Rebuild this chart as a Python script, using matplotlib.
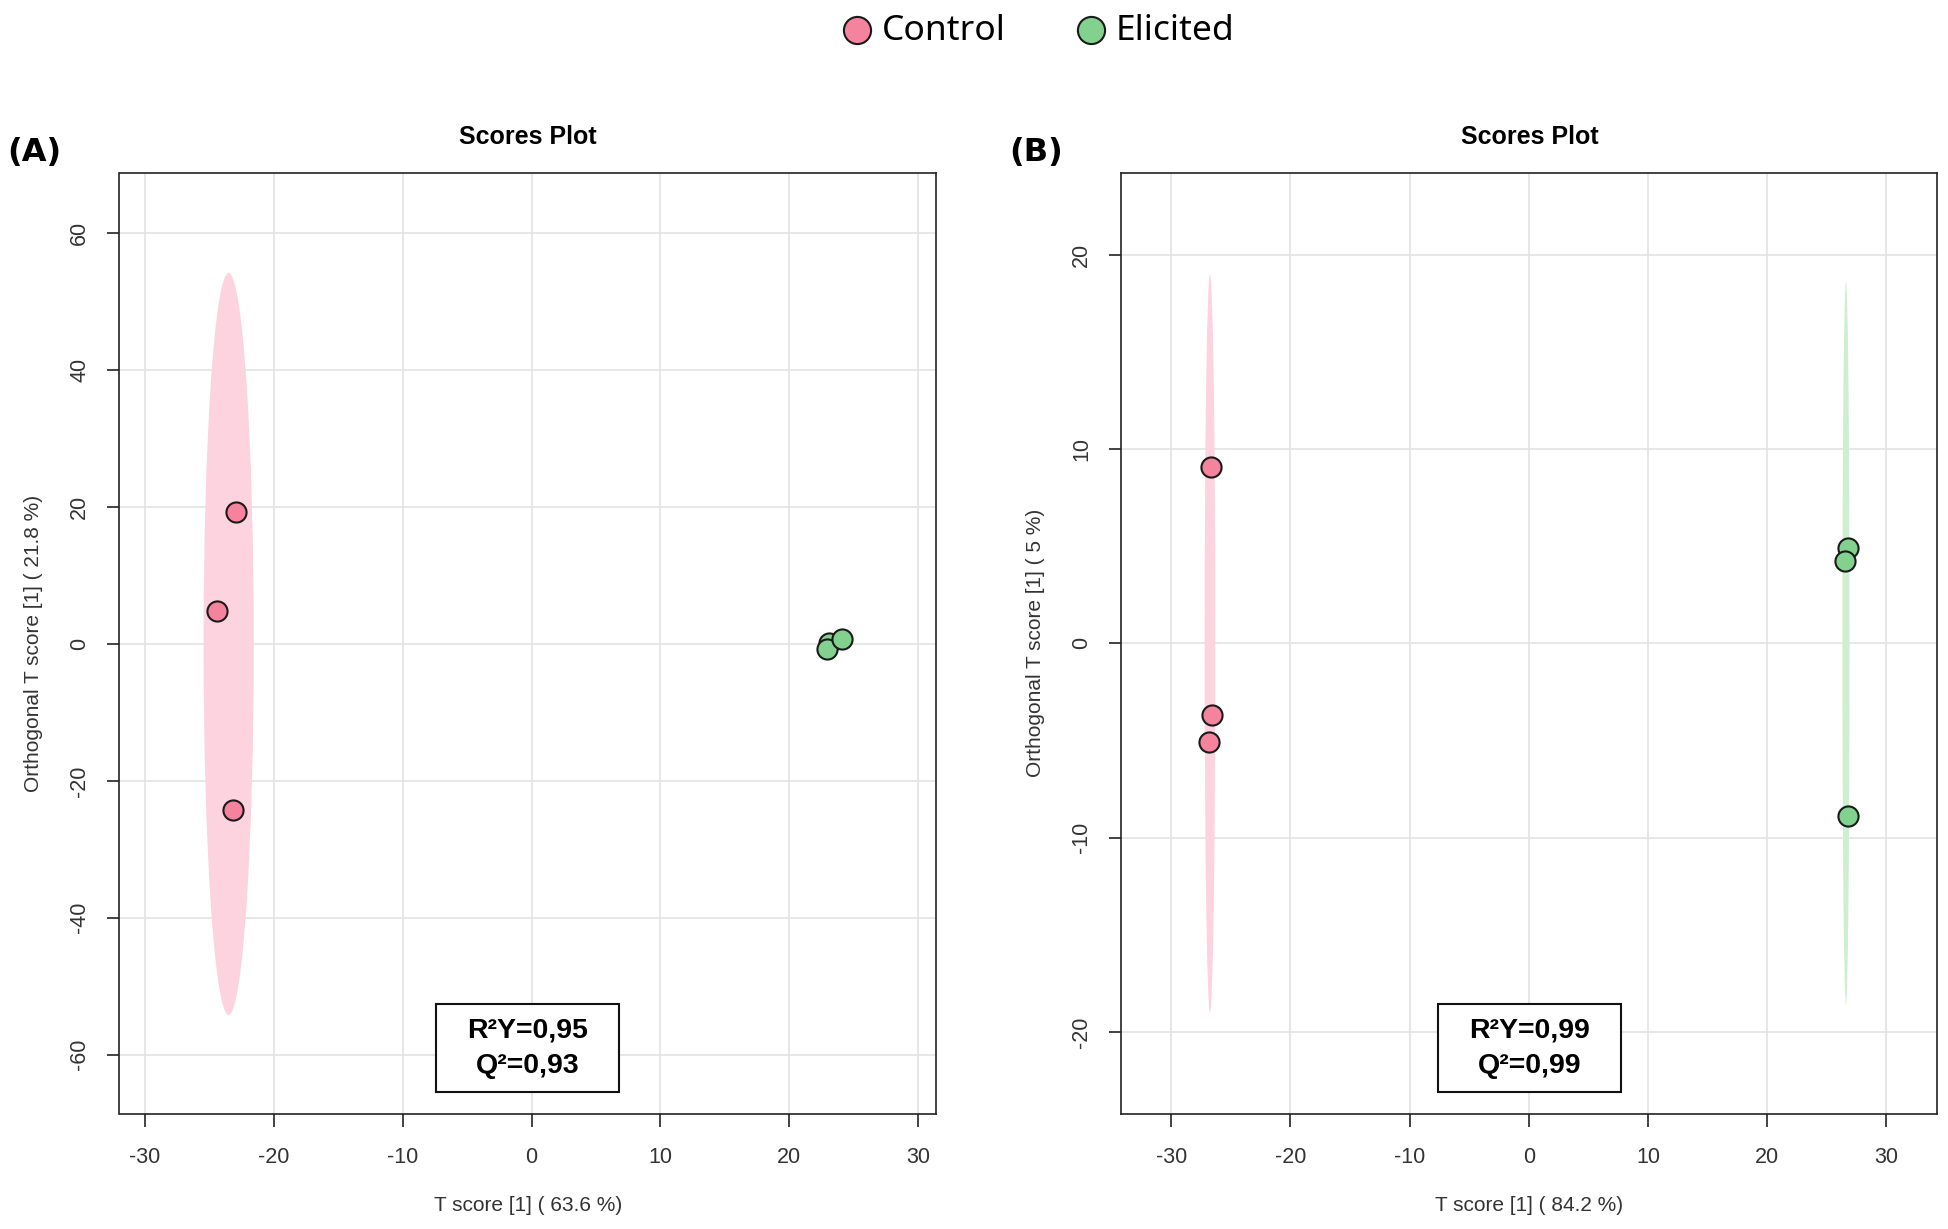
import matplotlib
matplotlib.use("Agg")
import matplotlib.pyplot as plt
from matplotlib.patches import Ellipse, Rectangle

plt.rcParams['font.family'] = ['Liberation Sans', 'DejaVu Sans']
plt.rcParams['axes.unicode_minus'] = False

# ---- data ----
groups = ["Control", "Elicited"]
point_colors = ["#F5839D", "#83D18F"]
fill_colors = ["#FDD3E0", "#CDEFCF"]

# panel A (T score 63.6 %, orthogonal 21.8 %)
a_ctrl_x = [-22.9, -24.4, -23.2]
a_ctrl_y = [19.3, 4.8, -24.3]
a_elic_x = [23.1, 22.95, 24.1]
a_elic_y = [0.2, -0.8, 0.7]
# ellipse: centre x, centre y, full width, full height
a_ellipses = [(-23.5, 0.0, 3.9, 108.4), None]
a_stats = ["R²Y=0,95", "Q²=0,93"]

# panel B (T score 84.2 %, orthogonal 5 %)
b_ctrl_x = [-26.65, -26.6, -26.85]
b_ctrl_y = [9.05, -3.7, -5.1]
b_elic_x = [26.78, 26.5, 26.78]
b_elic_y = [4.88, 4.25, -8.87]
b_ellipses = [(-26.75, 0.0, 0.9, 38.0), (26.62, 0.0, 0.6, 37.2)]
b_stats = ["R²Y=0,99", "Q²=0,99"]

xticks = [-30, -20, -10, 0, 10, 20, 30]
a_yticks = [-60, -40, -20, 0, 20, 40, 60]
b_yticks = [-20, -10, 0, 10, 20]

W, H = 1949, 1229
fig = plt.figure(figsize=(W / 100, H / 100), dpi=100)

bottom = 1 - 1113.5 / H
height = (1113.5 - 173) / H
axA = fig.add_axes([119.5 / W, bottom, (935.8 - 119.5) / W, height])
axB = fig.add_axes([1121.2 / W, bottom, (1937.5 - 1121.2) / W, height])


def draw_panel(ax, xs, ys, ellipses, stats, xlim, ylim, yticks, xlab, ylab, letter):
    ax.set_xlim(*xlim)
    ax.set_ylim(*ylim)
    ax.set_xticks(xticks)
    ax.set_yticks(yticks)
    ax.grid(True, color="#E3E3E3", lw=1.2, zorder=0)
    ax.set_axisbelow(True)
    for sp in ax.spines.values():
        sp.set_color("#222222")
        sp.set_linewidth(1.2)
    ax.tick_params(axis="both", length=9, width=1.2, color="#222222",
                   labelsize=15.5, labelcolor="#333333")
    ax.tick_params(axis="x", pad=15)
    ax.tick_params(axis="y", pad=12)
    for lab in ax.get_yticklabels():
        lab.set_rotation(90)
        lab.set_va("center")

    for ell, fc in zip(ellipses, fill_colors):
        if ell is None:
            continue
        cx, cy, w, h = ell
        ax.add_patch(Ellipse((cx, cy), w, h, facecolor=fc, edgecolor="none", zorder=1))

    handles = []
    for i, col in enumerate(point_colors):
        h = ax.scatter(xs[i], ys[i], s=210, c=col, edgecolors="#1a1a1a",
                       linewidths=1.5, zorder=3, label=groups[i])
        handles.append(h)

    ax.set_title("Scores Plot", fontsize=18, fontweight="bold", pad=21)
    ax.text(0.5, -0.098, xlab, transform=ax.transAxes, ha="center", va="center",
            fontsize=15, color="#333333")
    ax.text(-0.105, 0.5, ylab, transform=ax.transAxes, ha="center", va="center",
            rotation=90, fontsize=15, color="#333333")

    ax.add_patch(Rectangle((0.5 - 0.1125, 0.023), 0.225, 0.093, transform=ax.transAxes,
                           facecolor="white", edgecolor="#111111", lw=1.5, zorder=4))
    ax.text(0.5, 0.0885, stats[0], transform=ax.transAxes, ha="center", va="center",
            fontsize=20.5, fontweight="bold", zorder=5)
    ax.text(0.5, 0.0505, stats[1], transform=ax.transAxes, ha="center", va="center",
            fontsize=20.5, fontweight="bold", zorder=5)

    ax.text(-0.104, 1.022, letter, transform=ax.transAxes, ha="center", va="center",
            fontsize=23, fontweight="bold", family=["DejaVu Sans"])
    return handles


handles = draw_panel(axA, [a_ctrl_x, a_elic_x], [a_ctrl_y, a_elic_y], a_ellipses, a_stats,
                     (-31.97, 31.37), (-68.6, 68.8), a_yticks,
                     "T score [1] ( 63.6 %)", "Orthogonal T score [1] ( 21.8 %)", "(A)")
draw_panel(axB, [b_ctrl_x, b_elic_x], [b_ctrl_y, b_elic_y], b_ellipses, b_stats,
           (-34.2, 34.3), (-24.2, 24.2), b_yticks,
           "T score [1] ( 84.2 %)", "Orthogonal T score [1] ( 5 %)", "(B)")

fig.legend(handles=handles, labels=groups, loc="center", bbox_to_anchor=(0.533, 0.975),
           ncol=2, frameon=False, markerscale=1.35, handlelength=0.8,
           handletextpad=0.3, columnspacing=2.0,
           prop={"family": ["Noto Sans", "DejaVu Sans"], "size": 25.5})

fig.savefig("out.png", dpi=100, facecolor="white")
